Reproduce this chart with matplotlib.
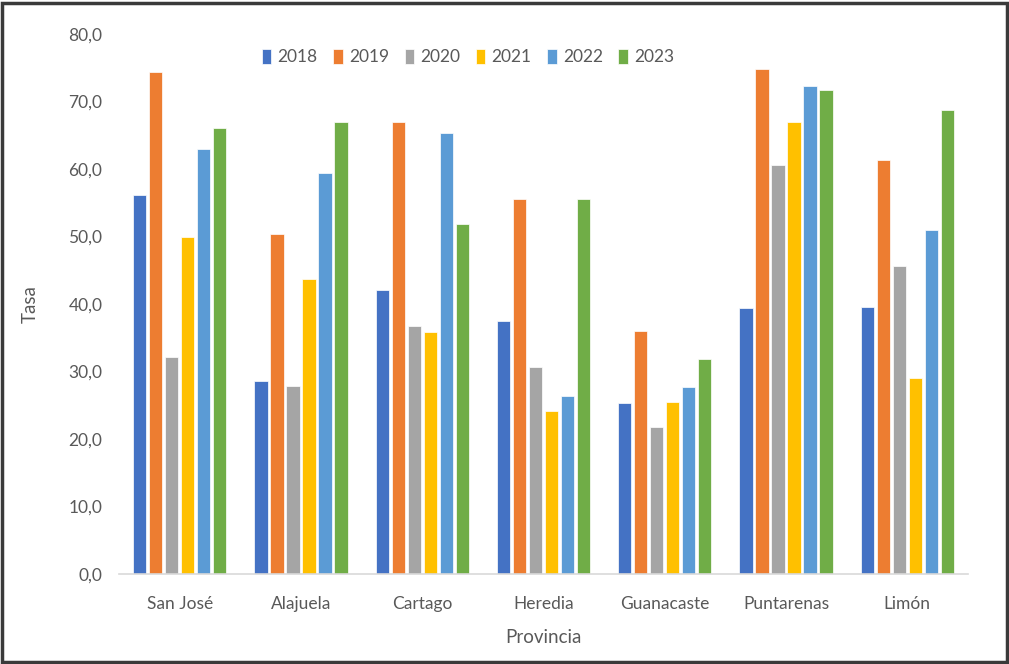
import matplotlib
matplotlib.use("Agg")
import matplotlib.pyplot as plt
import numpy as np
from matplotlib.patches import Rectangle

provincias = ["San José", "Alajuela", "Cartago", "Heredia", "Guanacaste", "Puntarenas", "Limón"]
years = ["2018", "2019", "2020", "2021", "2022", "2023"]
v2018 = [56.2, 28.6, 42.1, 37.5, 25.3, 39.4, 39.6]
v2019 = [74.3, 50.4, 66.9, 55.5, 36.0, 74.8, 61.3]
v2020 = [32.2, 27.9, 36.8, 30.7, 21.8, 60.6, 45.6]
v2021 = [50.0, 43.7, 35.9, 24.1, 25.5, 67.0, 29.0]
v2022 = [62.9, 59.4, 65.4, 26.4, 27.7, 72.3, 50.9]
v2023 = [66.1, 66.9, 51.9, 55.5, 31.9, 71.7, 68.7]
series = [v2018, v2019, v2020, v2021, v2022, v2023]
colors = ["#4472C4", "#ED7D31", "#A5A5A5", "#FFC000", "#5B9BD5", "#70AD47"]
yticks = [0, 10, 20, 30, 40, 50, 60, 70, 80]

plt.rcParams['font.family'] = ['Lato', 'DejaVu Sans']
txt = "#595959"

fig = plt.figure(figsize=(10.09, 6.64), dpi=100)
ax = fig.add_axes([119/1009, 1 - 574/664, (968-119)/1009, (574-34)/664])

x = np.arange(len(provincias))
step = 0.132
width = 0.11
for i, (vals, c, y) in enumerate(zip(series, colors, years)):
    ax.bar(x + (i - 2.5) * step, vals, width, color=c, label=y, edgecolor='white', linewidth=0.5)

ax.set_xlim(-0.5, len(provincias) - 0.5)
ax.set_ylim(0, 80)
ax.set_yticks(yticks)
ax.set_yticklabels([f"{t:.1f}".replace(".", ",") for t in yticks], fontsize=12.5, color=txt)
ax.set_xticks(x)
ax.set_xticklabels(provincias, fontsize=12.5, color=txt)
ax.tick_params(axis='both', length=0)
ax.tick_params(axis='y', pad=12)
ax.tick_params(axis='x', pad=16)
for s in ["top", "right", "left"]:
    ax.spines[s].set_visible(False)
ax.spines["bottom"].set_color("#D9D9D9")
ax.spines["bottom"].set_linewidth(1.2)

ax.set_ylabel("Tasa", fontsize=13.5, color=txt)
ax.yaxis.set_label_coords(-80/849, 0.5)
ax.set_xlabel("Provincia", fontsize=13.5, color=txt, labelpad=12)

leg = fig.legend(loc='center', bbox_to_anchor=(468/1009, 1 - 57/664), ncol=6, frameon=False,
                 fontsize=12.5, handlelength=0.55, handleheight=1.0, handletextpad=0.35, columnspacing=0.9)
for t in leg.get_texts():
    t.set_color(txt)

fig.patches.append(Rectangle((0.002, 0.003), 0.996, 0.993, transform=fig.transFigure,
                             fill=False, edgecolor="#3a3a3a", linewidth=2.5))

fig.savefig("out.png", dpi=100)
